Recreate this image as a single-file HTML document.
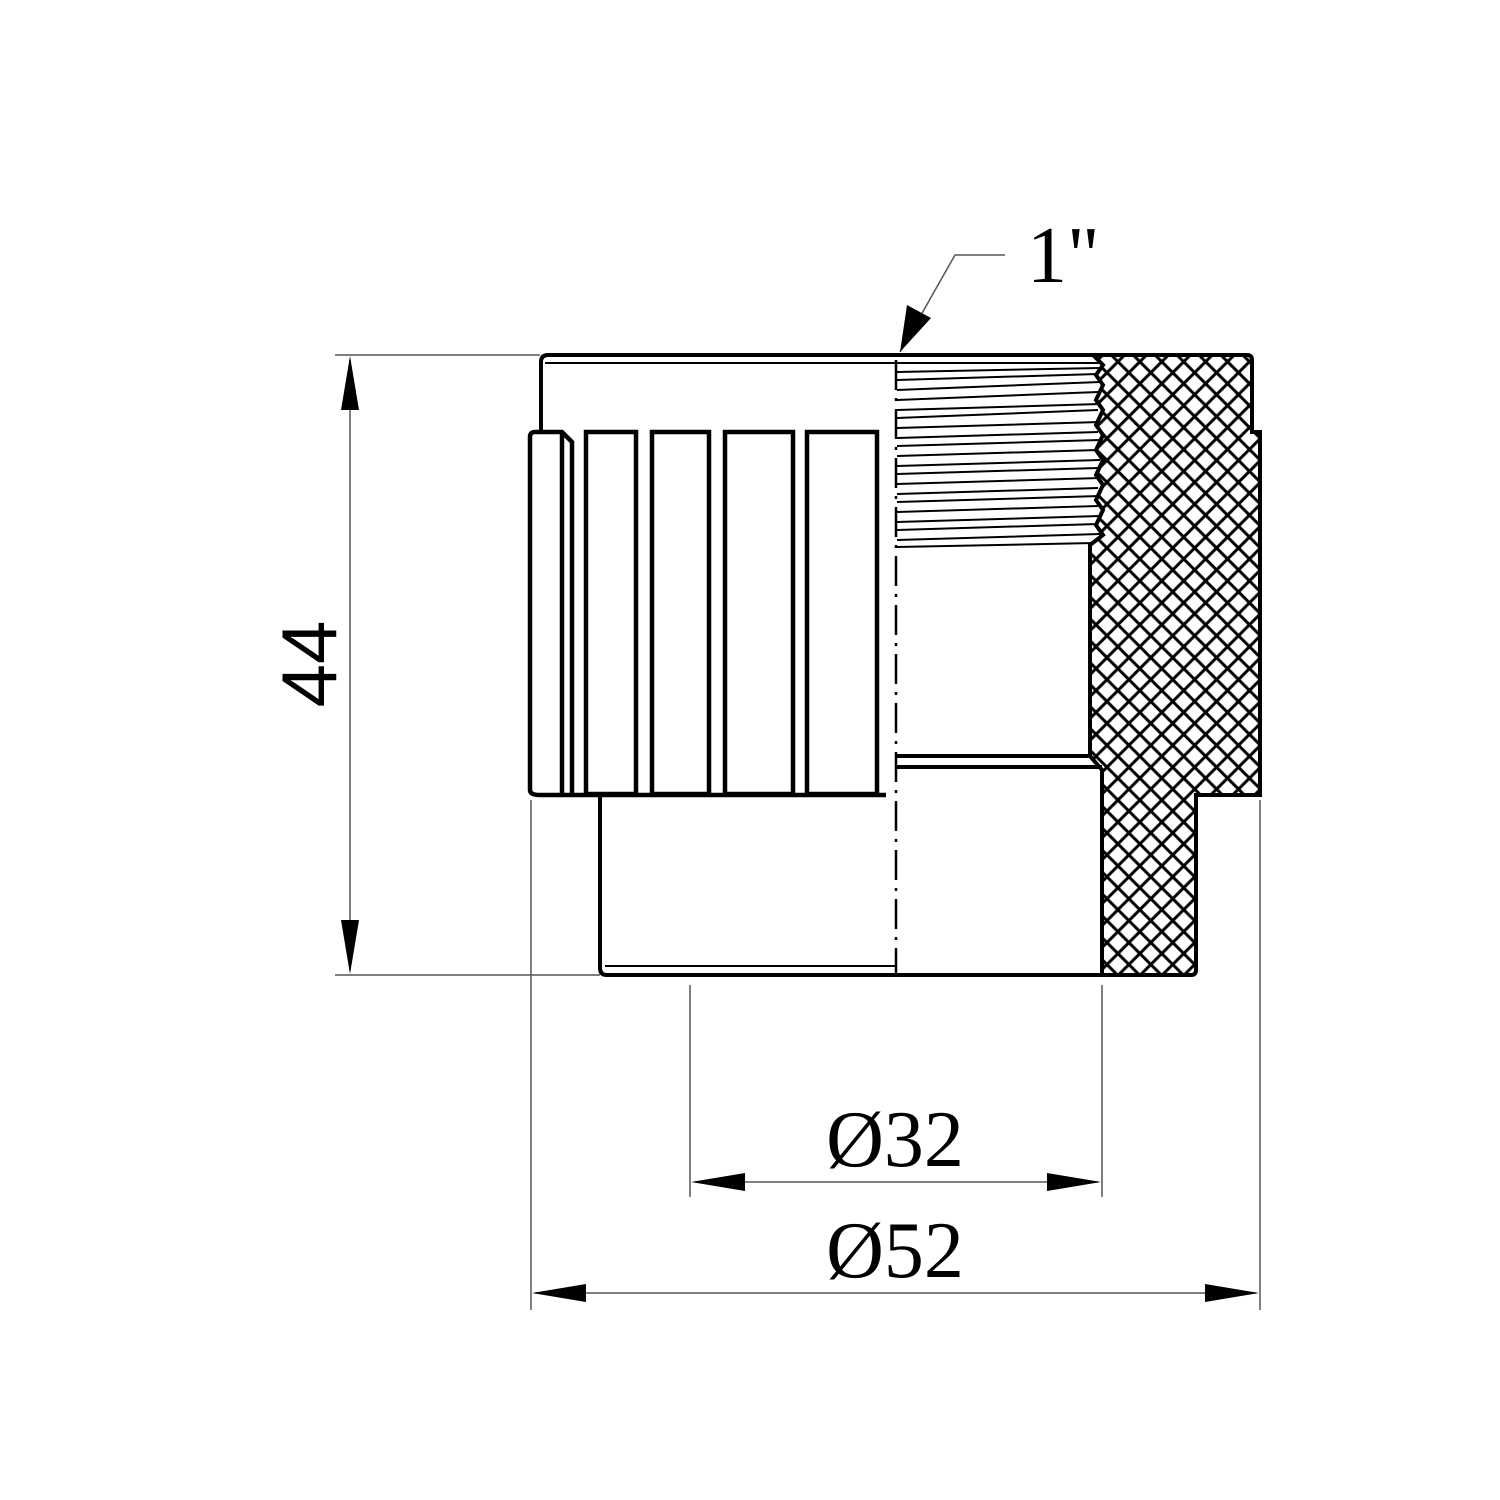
<!DOCTYPE html>
<html><head><meta charset="utf-8"><style>html,body{margin:0;padding:0;background:#fff}svg{display:block}</style></head>
<body>
<svg width="1500" height="1500" viewBox="0 0 1500 1500" xmlns="http://www.w3.org/2000/svg">
<defs>
<pattern id="h1" width="15.5" height="15.5" patternUnits="userSpaceOnUse" patternTransform="rotate(45)">
<rect width="15.5" height="15.5" fill="#fff"/>
<line x1="7.75" y1="0" x2="7.75" y2="15.5" stroke="#000" stroke-width="3"/>
<line x1="0" y1="7.75" x2="15.5" y2="7.75" stroke="#000" stroke-width="3"/>
</pattern>
</defs>
<g fill="none" stroke="#000">
<path d="M1093,355 L1247,355 Q1252,355 1252,360 L1252,432 L1260,432 L1260,795 L1196,795 L1196,970 Q1196,975 1191,975 L1102,975 L1102,770 L1090,756 L1090,545 L1103,535 L1096,525 L1103,510 L1096,500 L1103,485 L1096,475 L1103,460 L1096,450 L1103,435 L1096,425 L1103,410 L1096,400 L1103,385 L1096,375 L1103,365 Z" fill="url(#h1)" stroke-width="4"/>
<path d="M541,432 L541,362 Q541,355 548,355 L1093,355" stroke-width="4"/>
<line x1="545" y1="363" x2="897" y2="363" stroke-width="2"/>
<g stroke-width="2">
<line x1="897" y1="363" x2="1100" y2="363"/>
<path d="M897,372 L1100,368 M897,380 L1098,374 M897,390 L1100,382 M897,400 L1098,392 M897,410 L1100,404 M897,418 L1098,410 M897,428 L1100,422 M897,438 L1098,432 M897,446 L1100,440 M897,456 L1098,450 M897,466 L1100,460 M897,474 L1098,468 M897,484 L1100,478 M897,494 L1098,488 M897,502 L1100,496 M897,512 L1098,506 M897,522 L1100,516 M897,530 L1098,524 M897,540 L1100,534 M897,547 L1094,543"/>
</g>
<g stroke-width="4.5">
<path d="M530,437 Q530,432 535,432 L562,432 L572,442 L572,795 M562,432 L562,795"/>
<path d="M530,437 L530,790 Q530,795 540,795 L886,795"/>
<rect x="586" y="432" width="50" height="362"/>
<rect x="652" y="432" width="57" height="362"/>
<rect x="725" y="432" width="68" height="362"/>
<rect x="807" y="432" width="70" height="362"/>
</g>
<path d="M600,797 L600,968 Q600,975 607,975 L1102,975" stroke-width="4"/>
<line x1="605" y1="966" x2="896" y2="966" stroke-width="2"/>
<line x1="897" y1="756" x2="1090" y2="756" stroke-width="4"/>
<line x1="897" y1="767" x2="1102" y2="767" stroke-width="4"/>
<line x1="896" y1="360" x2="896" y2="975" stroke-width="2.5" stroke-dasharray="30,8,3,8"/>
<g stroke-width="1.5" stroke="#555">
<line x1="335" y1="355" x2="540" y2="355"/>
<line x1="335" y1="975" x2="600" y2="975"/>
<line x1="350" y1="360" x2="350" y2="970"/>
<line x1="690" y1="985" x2="690" y2="1197"/>
<line x1="1102" y1="985" x2="1102" y2="1197"/>
<line x1="695" y1="1182" x2="1098" y2="1182"/>
<line x1="531" y1="800" x2="531" y2="1310"/>
<line x1="1260" y1="800" x2="1260" y2="1310"/>
<line x1="535" y1="1293" x2="1256" y2="1293"/>
<polyline points="900,352 955,255 1005,255"/>
</g>
</g>
<g fill="#000">
<polygon points="350,356 341,410 359,410"/>
<polygon points="350,974 341,920 359,920"/>
<polygon points="691,1182 745,1173 745,1191"/>
<polygon points="1101,1182 1047,1173 1047,1191"/>
<polygon points="532,1293 586,1284 586,1302"/>
<polygon points="1259,1293 1205,1284 1205,1302"/>
<polygon points="900,352 907,305 931,318"/>
</g>
<g fill="#000">
<text x="309" y="664" font-family="Liberation Sans, sans-serif" font-size="78" text-anchor="middle" dominant-baseline="central" transform="rotate(-90 309 664)">44</text>
<text x="895" y="1166" font-family="Liberation Serif, serif" font-size="80" text-anchor="middle">Ø32</text>
<text x="895" y="1277" font-family="Liberation Serif, serif" font-size="80" text-anchor="middle">Ø52</text>
<text x="1027" y="282" font-family="Liberation Serif, serif" font-size="80">1"</text>
</g>
</svg>
</body></html>
